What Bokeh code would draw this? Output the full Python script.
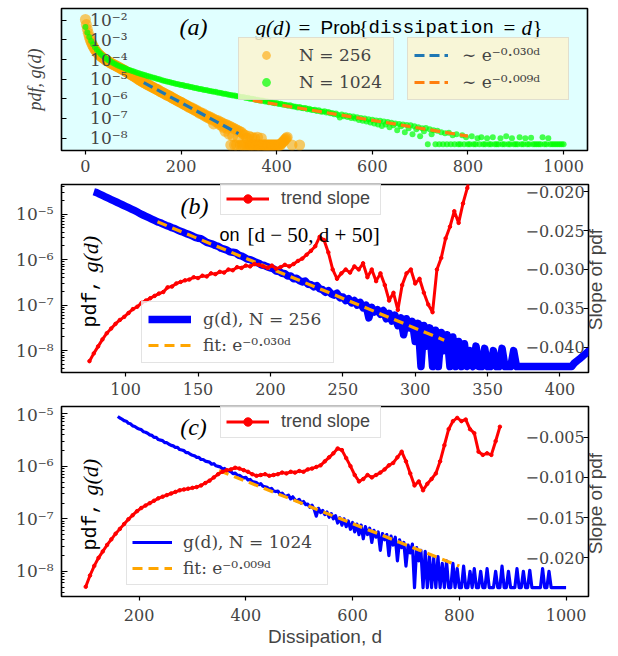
import math
import numpy as np
from bokeh.plotting import figure
from bokeh.layouts import column
from bokeh.models import (Range1d, LinearAxis, LinearScale, FixedTicker, CustomJSTickFormatter,
                          Legend, LegendItem, Label)
from bokeh.embed import file_html
from bokeh.resources import INLINE

# ---------------- data ----------------
# N = 256 : log10 g(d) for d = 0, 2, 4, ... (None = empty bin)
D256_START, D256_STEP = 0, 2
LOG_G256 = [
    -1.96, -2.22, -2.46, -2.66, -2.83, -2.98, -3.11, -3.22, -3.32, -3.41,
    -3.49, -3.56, -3.62, -3.68, -3.73, -3.78, -3.82, -3.86, -3.90, -3.94,
    -3.97, -4.01, -4.04, -4.07, -4.10, -4.13, -4.16, -4.19, -4.22, -4.25,
    -4.27, -4.30, -4.32, -4.35, -4.37, -4.40, -4.42, -4.45, -4.48, -4.51,
    -4.53, -4.56, -4.59, -4.62, -4.65, -4.68, -4.71, -4.74, -4.77, -4.80,
    -4.83, -4.86, -4.89, -4.92, -4.95, -4.99, -5.02, -5.05, -5.08, -5.11,
    -5.14, -5.17, -5.19, -5.22, -5.25, -5.27, -5.30, -5.32, -5.35, -5.38,
    -5.40, -5.43, -5.45, -5.48, -5.51, -5.53, -5.54, -5.58, -5.62, -5.64,
    -5.66, -5.69, -5.71, -5.75, -5.77, -5.79, -5.83, -5.84, -5.85, -5.90,
    -5.92, -5.95, -5.99, -6.00, -6.03, -6.06, -6.08, -6.12, -6.13, -6.16,
    -6.18, -6.20, -6.25, -6.26, -6.30, -6.31, -6.36, -6.36, -6.42, -6.41,
    -6.46, -6.49, -6.47, -6.54, -6.55, -6.60, -6.57, -6.64, -6.66, -6.72,
    -6.68, -6.75, -6.78, -6.74, -6.84, -6.82, -6.90, -6.86, -6.95, -6.90,
    -7.00, -6.94, -7.06, -7.00, -7.28, -7.05, -7.15, -7.10, -7.20, -7.12,
    -7.30, -7.18, -7.35, -7.22, -7.45, -7.28, -7.65, -7.30, -7.50, -7.36,
    -7.80, -7.40, -8.35, -7.45, -7.90, -7.50, -8.35, -7.55, -8.35, -7.60,
    -8.00, -7.65, -8.35, -7.70, -8.35, -7.80, -8.35, -7.85, -8.35, -8.00,
    -8.35, -7.90, -8.35, -8.35, -7.95, -8.35, -8.35, -8.00, -8.35, -8.35,
    -7.95, -8.35, -8.35, -8.35, -8.00, -8.35, -8.35, -8.35, -8.35, -8.35,
    -8.35, -8.35, -8.35, -8.35, -8.35, -8.35, -8.35, -8.35, -8.35, -8.35,
    -8.35, -8.35, -8.35, -8.35, -8.35, -8.27, -8.22, -8.17, -8.11, -8.06,
    -8.00, -7.95, None, None, None, None, -8.35, None, None, None,
    None, None, None, None, -8.35, None,
]

# N = 1024 : log10 g(d) for d = 0, 4, 8, ..., 1000
D1024_START, D1024_STEP = 0, 4
LOG_G1024 = [
    -2.34, -2.62, -2.85, -3.05, -3.22, -3.37, -3.50, -3.62, -3.72, -3.81,
    -3.89, -3.96, -4.03, -4.09, -4.15, -4.20, -4.25, -4.30, -4.34, -4.38,
    -4.42, -4.46, -4.50, -4.53, -4.57, -4.60, -4.63, -4.67, -4.70, -4.73,
    -4.76, -4.79, -4.82, -4.85, -4.88, -4.91, -4.93, -4.96, -4.99, -5.02,
    -5.05, -5.08, -5.10, -5.13, -5.14, -5.18, -5.19, -5.23, -5.24, -5.27,
    -5.29, -5.30, -5.34, -5.35, -5.37, -5.40, -5.41, -5.45, -5.45, -5.49,
    -5.50, -5.51, -5.55, -5.55, -5.58, -5.60, -5.61, -5.64, -5.64, -5.68,
    -5.69, -5.70, -5.74, -5.74, -5.77, -5.79, -5.80, -5.83, -5.83, -5.87,
    -5.87, -5.90, -5.91, -5.92, -5.96, -5.95, -5.99, -6.00, -6.01, -6.05,
    -6.04, -6.08, -6.09, -6.10, -6.14, -6.13, -6.17, -6.17, -6.20, -6.22,
    -6.21, -6.26, -6.25, -6.29, -6.30, -6.31, -6.35, -6.33, -6.38, -6.39,
    -6.40, -6.44, -6.42, -6.47, -6.48, -6.47, -6.53, -6.51, -6.56, -6.57,
    -6.55, -6.62, -6.58, -6.64, -6.66, -6.63, -6.70, -6.67, -6.73, -6.72,
    -6.78, -6.74, -6.82, -6.95, -6.80, -6.88, -6.84, -6.92, -6.87, -6.97,
    -6.90, -7.00, -6.94, -7.08, -6.98, -7.12, -7.00, -7.15, -7.04, -7.20,
    -7.07, -7.25, -7.10, -7.30, -7.12, -7.38, -7.15, -7.30, -7.18, -7.45,
    -7.22, -7.35, -7.25, -7.60, -7.28, -7.40, -7.30, -7.70, -7.33, -7.50,
    -7.35, -7.80, -7.40, -7.55, -7.45, -7.90, -7.50, -7.65, -7.48, -8.31,
    -7.55, -7.80, -7.60, -8.31, -7.62, -8.31, -7.70, -8.31, -7.75, -8.31,
    -7.72, -8.31, -7.85, -8.31, -7.80, -8.31, -8.31, -7.85, -8.31, -7.95,
    -8.31, -8.31, -7.90, -8.31, -8.31, -8.00, -8.31, -7.95, -8.31, -8.31,
    -8.00, -8.31, -8.31, -7.95, -8.31, -8.31, -8.31, -8.00, -8.31, -8.31,
    -7.90, -8.31, -8.31, -8.00, -8.31, -8.31, -8.31, -7.95, -8.31, -8.31,
    -8.00, -8.31, -8.31, -7.98, -8.31, -8.31, -8.31, -8.31, -8.31, -7.95,
    -8.31, -8.31, -8.00, -8.31, -8.31, -8.31, -8.31, -8.31, -8.31, -8.31,
    -8.31,
]

# trend slope of the pdf on [d-50, d+50]
SLOPE256_START, SLOPE256_STEP = 75, 3
SLOPE256 = [
    -0.0418, -0.0408, -0.0399, -0.0390, -0.0382, -0.0376, -0.0370, -0.0365, -0.0361, -0.0356,
    -0.0351, -0.0348, -0.0343, -0.0340, -0.0337, -0.0334, -0.0331, -0.0329, -0.0323, -0.0322,
    -0.0318, -0.0316, -0.0314, -0.0313, -0.0310, -0.0311, -0.0308, -0.0309, -0.0305, -0.0306,
    -0.0303, -0.0304, -0.0300, -0.0301, -0.0297, -0.0298, -0.0295, -0.0296, -0.0293, -0.0294,
    -0.0296, -0.0298, -0.0295, -0.0299, -0.0297, -0.0294, -0.0296, -0.0293, -0.0289, -0.0286,
    -0.0281, -0.0276, -0.0270, -0.0258, -0.0262, -0.0278, -0.0300, -0.0312, -0.0305, -0.0300,
    -0.0304, -0.0296, -0.0300, -0.0292, -0.0310, -0.0300, -0.0315, -0.0305, -0.0320, -0.0340,
    -0.0330, -0.0352, -0.0320, -0.0305, -0.0300, -0.0318, -0.0312, -0.0330, -0.0345, -0.0355,
    -0.0300, -0.0285, -0.0260, -0.0245, -0.0225, -0.0240, -0.0215, -0.0195, -0.0170,
]
SLOPE1024_START, SLOPE1024_STEP = 100, 8
SLOPE1024 = [
    -0.0236, -0.0222, -0.0210, -0.0200, -0.0192, -0.0184, -0.0177, -0.0170, -0.0164, -0.0158,
    -0.0152, -0.0147, -0.0142, -0.0138, -0.0135, -0.0132, -0.0129, -0.0126, -0.0124, -0.0122,
    -0.0120, -0.0118, -0.0116, -0.0115, -0.0114, -0.0113, -0.0112, -0.0110, -0.0107, -0.0104,
    -0.0100, -0.0096, -0.0093, -0.0091, -0.0090, -0.0088, -0.0089, -0.0091, -0.0093, -0.0096,
    -0.0098, -0.0097, -0.0096, -0.0098, -0.0097, -0.0096, -0.0094, -0.0095, -0.0093, -0.0094,
    -0.0092, -0.0093, -0.0090, -0.0089, -0.0087, -0.0085, -0.0080, -0.0075, -0.0070, -0.0064,
    -0.0066, -0.0076, -0.0086, -0.0097, -0.0105, -0.0102, -0.0097, -0.0100, -0.0097, -0.0094,
    -0.0090, -0.0085, -0.0082, -0.0075, -0.0068, -0.0080, -0.0095, -0.0110, -0.0105, -0.0116,
    -0.0108, -0.0102, -0.0095, -0.0080, -0.0060, -0.0040, -0.0030, -0.0026, -0.0030, -0.0028,
    -0.0040, -0.0045, -0.0068, -0.0072, -0.0070, -0.0072, -0.0055, -0.0037,
]

# exponential fits (end points)
FIT256_D = [122, 320]
FIT256_LOG = [-5.17, -7.77]
FIT1024_D = [350, 800]
FIT1024_LOG = [-6.08, -7.90]

# ticks
A_XTICKS = [0, 200, 400, 600, 800, 1000]
A_YTICKS = [1e-8, 1e-7, 1e-6, 1e-5, 1e-4, 1e-3, 1e-2]
B_XTICKS = [100, 150, 200, 250, 300, 350, 400]
B_SLOPE_TICKS = [-0.040, -0.035, -0.030, -0.025, -0.020]
C_XTICKS = [200, 400, 600, 800, 1000]
C_SLOPE_TICKS = [-0.020, -0.015, -0.010, -0.005]

# ---------------- derived arrays ----------------
log256 = np.array(LOG_G256, dtype=float)
d256 = D256_START + D256_STEP * np.arange(len(log256))
g256 = 10.0 ** log256
log1024 = np.array(LOG_G1024, dtype=float)
d1024 = D1024_START + D1024_STEP * np.arange(len(log1024))
g1024 = 10.0 ** log1024
s256 = np.array(SLOPE256)
ds256 = SLOPE256_START + SLOPE256_STEP * np.arange(len(s256))
s1024 = np.array(SLOPE1024)
ds1024 = SLOPE1024_START + SLOPE1024_STEP * np.arange(len(s1024))
fit256 = 10.0 ** np.array(FIT256_LOG)
fit1024 = 10.0 ** np.array(FIT1024_LOG)

SERIF = "Liberation Serif"
DSERIF = "DejaVu Serif"
SANS = "Liberation Sans"
MONO = "Liberation Mono"

SUP_JS = """
const sup = {"-": "\u207b", "0": "\u2070", "1": "\u00b9", "2": "\u00b2", "3": "\u00b3",
             "4": "\u2074", "5": "\u2075", "6": "\u2076", "7": "\u2077", "8": "\u2078", "9": "\u2079"};
const e = Math.round(Math.log10(tick));
let s = "10";
for (const c of String(e)) { s += sup[c]; }
return s;
"""
SLOPE_JS = 'return (tick < 0 ? "\u2212" : "") + Math.abs(tick).toFixed(3);'

E030 = "e\u207b\u2070\u00b7\u2070\u00b3\u2070\u1d48"
E009 = "e\u207b\u2070\u00b7\u2070\u2070\u2079\u1d48"


def make_fig(xr, yr, fw, fh, bl, br, bt, bb, bg="white"):
    p = figure(x_range=Range1d(*xr), y_range=Range1d(*yr), y_axis_type="log",
               frame_width=fw, frame_height=fh,
               min_border_left=bl, min_border_right=br, min_border_top=bt, min_border_bottom=bb,
               output_backend="svg", toolbar_location=None,
               background_fill_color=bg, border_fill_color="white",
               outline_line_color="black", outline_line_width=1.6)
    p.grid.visible = False
    return p


def style_axis(ax, size="16px"):
    ax.axis_line_color = None
    ax.major_label_text_font = DSERIF
    ax.major_label_text_font_size = size
    ax.major_tick_line_color = "black"
    ax.major_tick_line_width = 1.2
    ax.minor_tick_line_color = "black"
    ax.minor_tick_line_width = 1.0


def add_text(p, x, y, text, font, size, style="normal", align="left",
             baseline="alphabetic", angle=0.0):
    p.add_layout(Label(x=x, y=y, x_units="screen", y_units="screen", text=text,
                       text_font=font, text_font_size=f"{size}px", text_font_style=style,
                       text_align=align, text_baseline=baseline, angle=angle,
                       angle_units="rad", text_color="black"))


def style_legend(leg, font, size, bg="white", bg_alpha=0.8):
    leg.label_text_font = font
    leg.label_text_font_size = f"{size}px"
    leg.background_fill_color = bg
    leg.background_fill_alpha = bg_alpha
    leg.border_line_color = "#c8c8c8"
    leg.border_line_width = 1.6
    leg.margin = 0


def has_prop(model, name):
    return name in model.properties()


# ================= panel (a) =================
pa = make_fig((-50, 1050), (10 ** -8.63, 10 ** -1.40), 526, 142, 61, 31, 8, 33, bg="#e0ffff")
r_or = pa.scatter(d256, g256, size=11, color="#ffa500", alpha=0.6, line_color=None)
r_gr = pa.scatter(d1024, g1024, size=6, color="#00ff00", alpha=0.7, line_color=None)
r_f1 = pa.line(FIT256_D, fit256, line_color="#1f77b4", line_width=3.2, line_dash="10 5")
r_f2 = pa.line(FIT1024_D, fit1024, line_color="#ff7f0e", line_width=3.2, line_dash="10 5")

style_axis(pa.xaxis[0])
pa.xaxis.ticker = FixedTicker(ticks=A_XTICKS)
pa.xaxis.major_tick_out = 4
pa.xaxis.major_tick_in = 0
pa.xaxis.minor_tick_line_color = None
pa.xaxis.major_label_standoff = 5

style_axis(pa.yaxis[0], size="17px")
pa.yaxis.ticker = FixedTicker(ticks=A_YTICKS)
pa.yaxis.formatter = CustomJSTickFormatter(code=SUP_JS)
pa.yaxis.major_tick_in = 5
pa.yaxis.major_tick_out = 0
pa.yaxis.minor_tick_line_color = None
pa.yaxis.major_label_standoff = -66
pa.yaxis.axis_label = "pdf, g(d)"
pa.yaxis.axis_label_text_font = SERIF
pa.yaxis.axis_label_text_font_size = "18px"
pa.yaxis.axis_label_text_font_style = "italic"
pa.yaxis.axis_label_standoff = 42

leg_a1 = Legend(items=[LegendItem(label="N = 256", renderers=[r_or]),
                       LegendItem(label="N = 1024", renderers=[r_gr])],
                location=(177, 50), padding=6, spacing=5, glyph_width=42, glyph_height=22,
                label_height=22, label_standoff=12, label_width=88)
style_legend(leg_a1, DSERIF, 17, bg="#fbf5d0", bg_alpha=0.85)
leg_a2 = Legend(items=[LegendItem(label="\u223c " + E030, renderers=[r_f1]),
                       LegendItem(label="\u223c " + E009, renderers=[r_f2])],
                location=(346, 50), padding=6, spacing=5, glyph_width=34, glyph_height=22,
                label_height=22, label_standoff=14, label_width=100)
style_legend(leg_a2, DSERIF, 17, bg="#fbf5d0", bg_alpha=0.85)
pa.add_layout(leg_a1)
pa.add_layout(leg_a2)

add_text(pa, 132, 124, "(a)", SERIF, 24, style="italic", align="center", baseline="middle")
# title g(d) = Prob{dissipation = d}
add_text(pa, 194, 123, "g(d)", SERIF, 21, style="italic")
add_text(pa, 237, 123, "=", SERIF, 21)
add_text(pa, 259, 123, "Prob", SANS, 19)
add_text(pa, 297, 123, "{", SERIF, 21)
add_text(pa, 307, 123, "dissipation", MONO, 19)
add_text(pa, 442, 123, "=", SERIF, 21)
add_text(pa, 460, 123, "d", SERIF, 21, style="italic")
add_text(pa, 471, 123, "}", SERIF, 21)


# ================= panels (b) and (c) =================
def slope_panel(xr, yr, sr, fh, bt, bb, xticks, sticks, d, g, dmin, lw, ds, s, fd, fg,
                label, fit_label, leg_loc, leg_kw, trend_loc, x_standoff):
    p = make_fig(xr, yr, 527, fh, 60, 31, bt, bb)
    p.extra_y_ranges = {"slope": Range1d(*sr)}
    p.extra_y_scales = {"slope": LinearScale()}
    m = d >= dmin
    r_b = p.line(d[m], g[m], line_color="#0000ff", line_width=lw, line_join="round")
    r_f = p.line(fd, fg, line_color="#ffa500", line_width=3.2, line_dash="10 6")
    r_rl = p.line(ds, s, line_color="#ff0000", line_width=3, line_join="round",
                  y_range_name="slope")
    r_rp = p.scatter(ds, s, size=3.5, color="#ff0000", y_range_name="slope")

    style_axis(p.xaxis[0])
    p.xaxis.ticker = FixedTicker(ticks=xticks)
    p.xaxis.major_tick_out = 4
    p.xaxis.major_tick_in = 0
    p.xaxis.minor_tick_line_color = None
    p.xaxis.major_label_standoff = x_standoff

    style_axis(p.yaxis[0], size="17px")
    p.yaxis.formatter = CustomJSTickFormatter(code=SUP_JS)
    p.yaxis.major_tick_in = 6
    p.yaxis.major_tick_out = 0
    p.yaxis.minor_tick_in = 3
    p.yaxis.minor_tick_out = 0
    p.yaxis.major_label_standoff = 8

    # right axis: ticks and labels drawn inside the frame
    ax_r = LinearAxis(y_range_name="slope", ticker=FixedTicker(ticks=sticks),
                      formatter=CustomJSTickFormatter(code=SLOPE_JS))
    style_axis(ax_r)
    ax_r.major_tick_in = 5
    ax_r.major_tick_out = 0
    ax_r.minor_tick_line_color = None
    ax_r.major_label_standoff = -63
    p.add_layout(ax_r, "right")

    # second right axis that only carries the title "Slope of pdf", reading bottom to top
    ax_t = LinearAxis(y_range_name="slope", ticker=FixedTicker(ticks=[]))
    ax_t.axis_line_color = None
    ax_t.major_tick_line_color = None
    ax_t.minor_tick_line_color = None
    ax_t.major_tick_out = 0
    ax_t.major_tick_in = 0
    ax_t.minor_tick_out = 0
    ax_t.minor_tick_in = 0
    ax_t.major_label_standoff = 0
    ax_t.axis_label_text_font = SANS
    ax_t.axis_label_text_font_size = "19px"
    ax_t.axis_label_text_font_style = "normal"
    ax_t.axis_label_standoff = 7
    if has_prop(ax_t, "axis_label_orientation") and has_prop(ax_t, "axis_label_align"):
        # text starts at the bottom end of the axis; non-breaking spaces lift it to the centre
        lift = int(round((fh / 2.0 - 54.0) / 5.3))
        ax_t.axis_label = "\u00a0" * lift + "Slope of pdf"
        ax_t.axis_label_orientation = math.pi / 2
        ax_t.axis_label_align = "start"
    else:
        ax_t.axis_label = "Slope of pdf"
    p.add_layout(ax_t, "right")

    leg_t = Legend(items=[LegendItem(label="trend slope", renderers=[r_rl, r_rp])],
                   location=trend_loc, padding=5, glyph_width=43, glyph_height=21,
                   label_height=21, label_standoff=12, label_width=94)
    style_legend(leg_t, SANS, 18)
    leg_b = Legend(items=[LegendItem(label=label, renderers=[r_b]),
                          LegendItem(label=fit_label, renderers=[r_f])],
                   location=leg_loc, spacing=4, glyph_height=22, label_height=22, **leg_kw)
    style_legend(leg_b, DSERIF, 17)
    p.add_layout(leg_b)
    p.add_layout(leg_t)

    # y label drawn inside the frame, as in the reference
    mid = fh / 2.0
    add_text(p, 29, mid - 49, "pdf,", MONO, 20, align="left", baseline="middle", angle=math.pi / 2)
    add_text(p, 29, mid + 6, "g(d)", SERIF, 22, style="italic", align="left", baseline="middle",
             angle=math.pi / 2)
    return p


pb = slope_panel((55.7, 419.7), (10 ** -8.48, 10 ** -4.35), (-0.04326, -0.01906), 188, 1, 32,
                 B_XTICKS, B_SLOPE_TICKS, d256, g256, 78, 7.5, ds256, s256, FIT256_D, fit256,
                 "g(d), N = 256", "fit: " + E030,
                 (80, 9), dict(padding=6, glyph_width=43, label_standoff=12, label_width=124),
                 (159, 157), 6)
add_text(pb, 133, 167, "(b)", SERIF, 24, style="italic", align="center", baseline="middle")
add_text(pb, 158, 138, "on", SANS, 18)
add_text(pb, 186, 138, "[d \u2212 50, d + 50]", SERIF, 21)

pc = slope_panel((54.6, 1042), (10 ** -8.48, 10 ** -4.86), (-0.02481, -0.00118), 190, 2, 60,
                 C_XTICKS, C_SLOPE_TICKS, d1024, g1024, 160, 3.2, ds1024, s1024, FIT1024_D, fit1024,
                 "g(d), N = 1024", "fit: " + E009,
                 (65, 11), dict(padding=5, glyph_width=40, label_standoff=11, label_width=139),
                 (159, 158), 8)
add_text(pc, 132, 170, "(c)", SERIF, 24, style="italic", align="center", baseline="middle")
pc.xaxis.axis_label = "Dissipation, d"
pc.xaxis.axis_label_text_font = SANS
pc.xaxis.axis_label_text_font_size = "19px"
pc.xaxis.axis_label_text_font_style = "normal"
pc.xaxis.axis_label_standoff = 2

layout = column(pa, pb, pc)
with open("out.html", "w", encoding="utf-8") as f:
    f.write(file_html(layout, INLINE))
